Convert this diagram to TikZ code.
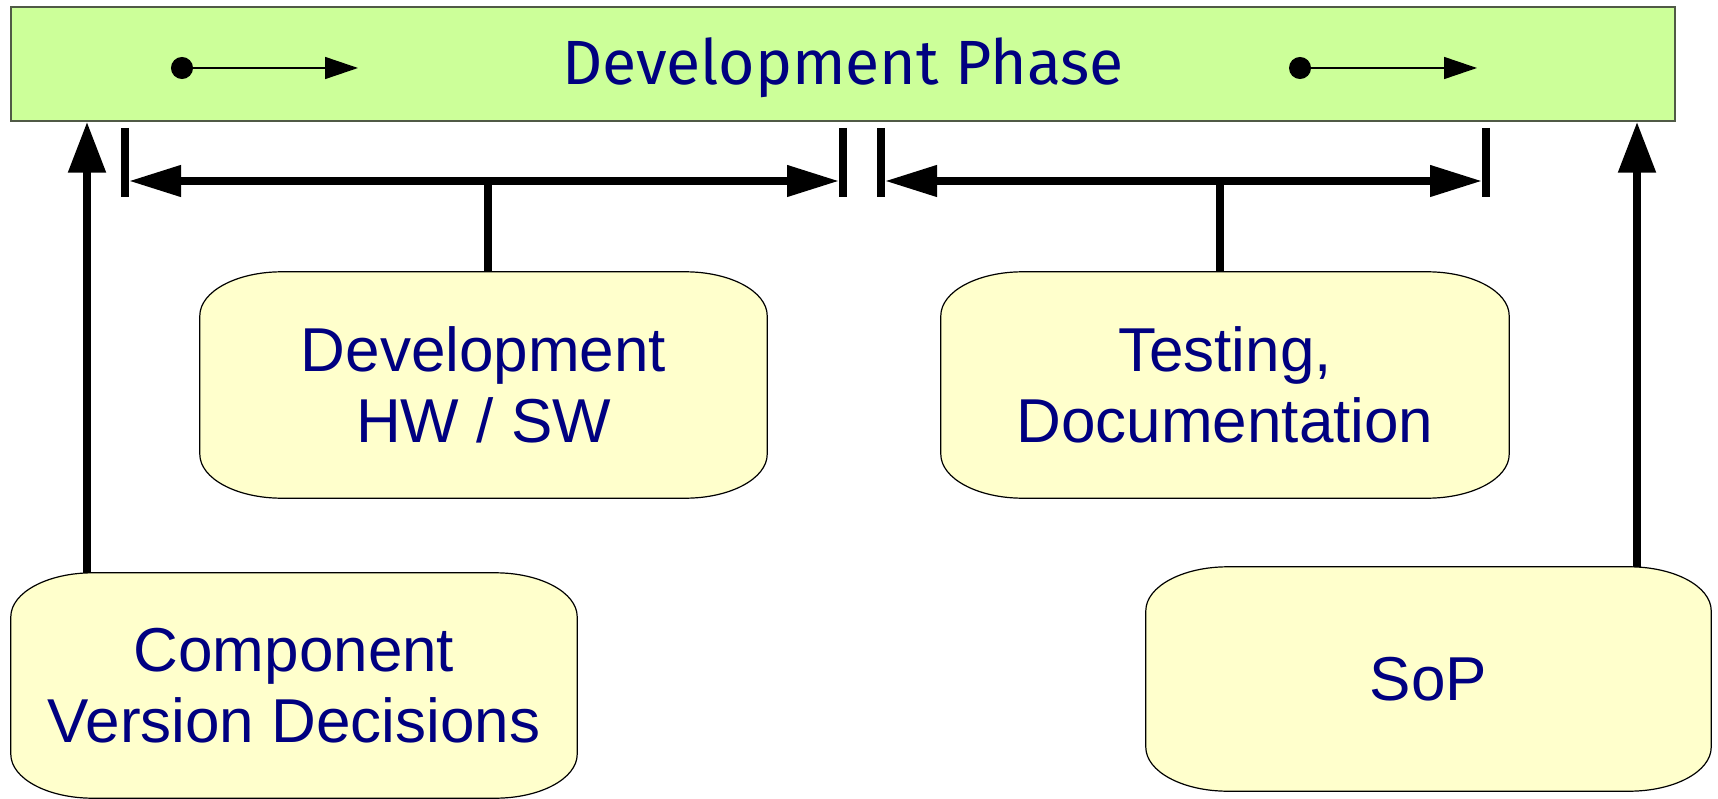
\documentclass[tikz,border=0pt]{standalone}
\usepackage{fontspec}
\setmainfont{Liberation Sans}
\newfontfamily\titlefont{Fira Sans}
\usetikzlibrary{arrows.meta,backgrounds}

\definecolor{bannerfill}{RGB}{204,255,153}
\definecolor{bannerline}{RGB}{80,90,70}
\definecolor{stagefill}{RGB}{255,255,204}
\definecolor{navytext}{RGB}{0,0,128}

\tikzset{
  bannerbox/.style={rectangle, draw=bannerline, line width=1.5pt, fill=bannerfill, inner sep=0pt},
  titletext/.style={font=\titlefont\fontsize{62.5}{70}\selectfont, text=navytext, inner sep=0pt},
  stagebox/.style={rectangle, inner sep=0pt, align=center, text=navytext,
    font=\fontsize{62}{71}\selectfont},
  boxframe/.style={draw=black, line width=1.2pt, fill=stagefill},
  flowarrow/.style={line width=1.5pt, {Circle[length=22pt]}-{Triangle[length=33pt,width=22pt]}},
  spanarrow/.style={line width=7.5pt, {Triangle[length=52pt,width=30pt]}-{Triangle[length=52pt,width=30pt]}},
  spantick/.style={line width=8pt},
  stem/.style={line width=7.5pt},
  uparrow/.style={line width=8.5pt, -{Triangle[length=51pt,width=36pt]}},
}

% frame with elliptical corners around a named node
\newcommand\softframe[1]{%
  \filldraw[boxframe] ([xshift=82pt]#1.north west) -- ([xshift=-82pt]#1.north east)
    arc[start angle=90,end angle=0,x radius=82pt,y radius=44pt]
    -- ([yshift=44pt]#1.south east)
    arc[start angle=0,end angle=-90,x radius=82pt,y radius=44pt]
    -- ([xshift=82pt]#1.south west)
    arc[start angle=270,end angle=180,x radius=82pt,y radius=44pt]
    -- ([yshift=-44pt]#1.north west)
    arc[start angle=180,end angle=90,x radius=82pt,y radius=44pt]
    -- cycle;}

\begin{document}
\begin{tikzpicture}[x=1pt,y=-1pt]
  \useasboundingbox (0,0) rectangle (1718,799);

  % phase banner
  \node[bannerbox, minimum width=1664pt, minimum height=114pt] (banner) at (843,64) {};
  \node[titletext, anchor=base] (title) at (843,85) {Development Phase};

  % flow marks inside the banner
  \coordinate (f1s) at (171,68);
  \coordinate (f1e) at (358,68);
  \coordinate (f2s) at (1289,68);
  \coordinate (f2e) at (1477,68);
  \draw[flowarrow] (f1s) -- (f1e);
  \draw[flowarrow] (f2s) -- (f2e);

  % stage boxes
  \node[stagebox, minimum width=567pt, minimum height=226pt] (dev) at (483.5,385) {Development\\HW / SW};
  \node[stagebox, minimum width=568pt, minimum height=226pt] (test) at (1225,385) {Testing,\\Documentation};
  \node[stagebox, minimum width=566pt, minimum height=225pt] (comp) at (294,685.5) {Component\\Version Decisions};
  \node[stagebox, minimum width=565pt, minimum height=224pt] (sop) at (1428.5,679) {SoP};

  \begin{scope}[on background layer]
    \softframe{dev}
    \softframe{test}
    \softframe{comp}
    \softframe{sop}
  \end{scope}

  % span markers for the two stages
  \coordinate (a1) at (125,128);  \coordinate (a1b) at (125,197);
  \coordinate (a2) at (843,128);  \coordinate (a2b) at (843,197);
  \coordinate (b1) at (881,128);  \coordinate (b1b) at (881,197);
  \coordinate (b2) at (1485.5,128); \coordinate (b2b) at (1485.5,197);
  \draw[spantick] (a1) -- (a1b);
  \draw[spantick] (a2) -- (a2b);
  \draw[spantick] (b1) -- (b1b);
  \draw[spantick] (b2) -- (b2b);

  \coordinate (sa1) at (129,181);  \coordinate (sa2) at (839,181);
  \coordinate (sb1) at (885,181);  \coordinate (sb2) at (1482,181);
  \draw[spanarrow] (sa1) -- (sa2);
  \draw[spanarrow] (sb1) -- (sb2);

  \coordinate (ja) at (488,181);
  \coordinate (jb) at (1220,181);
  \draw[stem] (ja) -- (ja |- dev.north);
  \draw[stem] (jb) -- (jb |- test.north);

  % milestones feeding the phase
  \coordinate (ua) at (87,0);
  \coordinate (ub) at (1637,0);
  \draw[uparrow] (comp.north -| ua) -- (banner.south -| ua);
  \draw[uparrow] (sop.north -| ub) -- (banner.south -| ub);
\end{tikzpicture}
\end{document}
